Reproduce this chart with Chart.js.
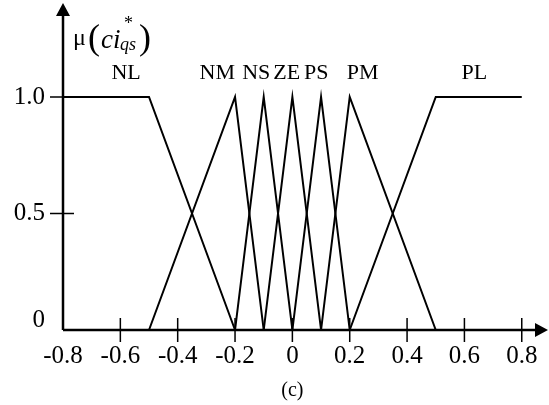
<!DOCTYPE html>
<html>
<head>
<meta charset="utf-8">
<script src="https://cdn.jsdelivr.net/npm/chart.js@4"></script>
<style>
  body { margin: 0; background: #fff; }
  #wrap { width: 549px; height: 405px; }
</style>
</head>
<body>
<div id="wrap"><canvas id="chart"></canvas></div>
<script>
// fuzzy sets: name, breakpoints (x) and membership (y)
const setNames = ['NL', 'NM', 'NS', 'ZE', 'PS', 'PM', 'PL'];
const setX = [
  [-0.8, -0.5, -0.2],
  [-0.5, -0.2, -0.1],
  [-0.2, -0.1, 0],
  [-0.1, 0, 0.1],
  [0, 0.1, 0.2],
  [0.1, 0.2, 0.5],
  [0.2, 0.5, 0.8]
];
const setY = [
  [1, 1, 0],
  [0, 1, 0],
  [0, 1, 0],
  [0, 1, 0],
  [0, 1, 0],
  [0, 1, 0],
  [0, 1, 1]
];
// where each name sits, in data units
const nameX = [-0.58, -0.262, -0.126, -0.02, 0.083, 0.245, 0.635];
const nameY = 1.1;

const xTickValues = [-0.8, -0.6, -0.4, -0.2, 0, 0.2, 0.4, 0.6, 0.8];
const yTickValues = [0, 0.5, 1.0];
const caption = '(c)';

const SERIF = '"Liberation Serif", "DejaVu Serif", serif';

const datasets = setNames.map(function (name, i) {
  return {
    label: name,
    data: setX[i].map(function (x, j) { return { x: x, y: setY[i][j] }; }),
    borderColor: '#000',
    borderWidth: 2,
    pointRadius: 0,
    tension: 0,
    fill: false,
    clip: false
  };
});

function noPad(s) {
  s.paddingTop = 0;
  s.paddingBottom = 0;
  s.paddingLeft = 0;
  s.paddingRight = 0;
}

const extras = {
  id: 'extras',
  afterDatasetsDraw(chart) {
    const ctx = chart.ctx;
    const xs = chart.scales.x, ys = chart.scales.y;
    const x0 = xs.left, y0 = ys.getPixelForValue(0);
    ctx.save();
    ctx.strokeStyle = '#000';
    ctx.fillStyle = '#000';

    // axes with arrows
    ctx.lineWidth = 2.5;
    ctx.beginPath();
    ctx.moveTo(x0, y0);
    ctx.lineTo(xs.right - 10, y0);
    ctx.moveTo(x0, y0);
    ctx.lineTo(x0, ys.top + 10);
    ctx.stroke();
    ctx.beginPath();
    ctx.moveTo(xs.right - 1, y0);
    ctx.lineTo(xs.right - 14, y0 - 7);
    ctx.lineTo(xs.right - 14, y0 + 7);
    ctx.closePath();
    ctx.moveTo(x0, ys.top + 3);
    ctx.lineTo(x0 - 7, ys.top + 16);
    ctx.lineTo(x0 + 7, ys.top + 16);
    ctx.closePath();
    ctx.fill();

    // tick marks crossing the axes
    ctx.lineWidth = 1.5;
    ctx.beginPath();
    xTickValues.forEach(function (v) {
      if (v === xs.min) return;
      const px = xs.getPixelForValue(v);
      ctx.moveTo(px, y0 - 12);
      ctx.lineTo(px, y0 + 12);
    });
    yTickValues.forEach(function (v) {
      if (v === 0) return;
      const py = ys.getPixelForValue(v);
      ctx.moveTo(x0 - 13, py);
      ctx.lineTo(x0 + 11, py);
    });
    ctx.stroke();

    // set names
    ctx.font = '22px ' + SERIF;
    ctx.textAlign = 'center';
    ctx.textBaseline = 'middle';
    setNames.forEach(function (name, i) {
      ctx.fillText(name, xs.getPixelForValue(nameX[i]), ys.getPixelForValue(nameY));
    });

    // caption
    ctx.font = '20px ' + SERIF;
    ctx.fillText(caption, xs.getPixelForValue(0), 391);

    // y axis title: mu(ci*_qs)
    ctx.textAlign = 'left';
    ctx.textBaseline = 'alphabetic';
    ctx.font = '24px ' + SERIF;
    ctx.fillText('\u03bc', x0 + 10, 45);
    ctx.font = '36px ' + SERIF;
    ctx.fillText('(', x0 + 25, 49);
    ctx.font = 'italic 27px ' + SERIF;
    ctx.fillText('ci', x0 + 38, 48);
    ctx.font = '18px ' + SERIF;
    ctx.fillText('*', x0 + 61, 29);
    ctx.font = 'italic 18px ' + SERIF;
    ctx.fillText('qs', x0 + 57, 50);
    ctx.font = '36px ' + SERIF;
    ctx.fillText(')', x0 + 76, 49);
    ctx.restore();
  }
};

new Chart(document.getElementById('chart'), {
  type: 'line',
  data: { datasets: datasets },
  plugins: [extras],
  options: {
    responsive: true,
    maintainAspectRatio: false,
    animation: false,
    layout: { padding: 0 },
    plugins: {
      legend: { display: false },
      tooltip: { enabled: false }
    },
    scales: {
      x: {
        type: 'linear',
        min: -0.8,
        max: 0.895,
        afterBuildTicks: function (s) { s.ticks = xTickValues.map(function (v) { return { value: v }; }); },
        afterFit: function (s) { s.height = 75; noPad(s); },
        grid: { display: false, drawTicks: false },
        border: { display: false },
        ticks: {
          color: '#000',
          padding: 11,
          maxRotation: 0,
          autoSkip: false,
          font: { family: SERIF, size: 25 },
          callback: function (v) { return v === 0 ? '0' : v.toFixed(1); }
        }
      },
      y: {
        type: 'linear',
        min: 0,
        max: 1.416,
        afterBuildTicks: function (s) { s.ticks = yTickValues.map(function (v) { return { value: v }; }); },
        afterFit: function (s) { s.width = 63; noPad(s); },
        grid: { display: false, drawTicks: false },
        border: { display: false },
        ticks: {
          color: '#000',
          padding: 18,
          autoSkip: false,
          font: { family: SERIF, size: 25, lineHeight: 0.75 },
          callback: function (v) { return v === 0 ? ['0', ''] : v.toFixed(1); }
        }
      }
    }
  }
});
</script>
</body>
</html>
